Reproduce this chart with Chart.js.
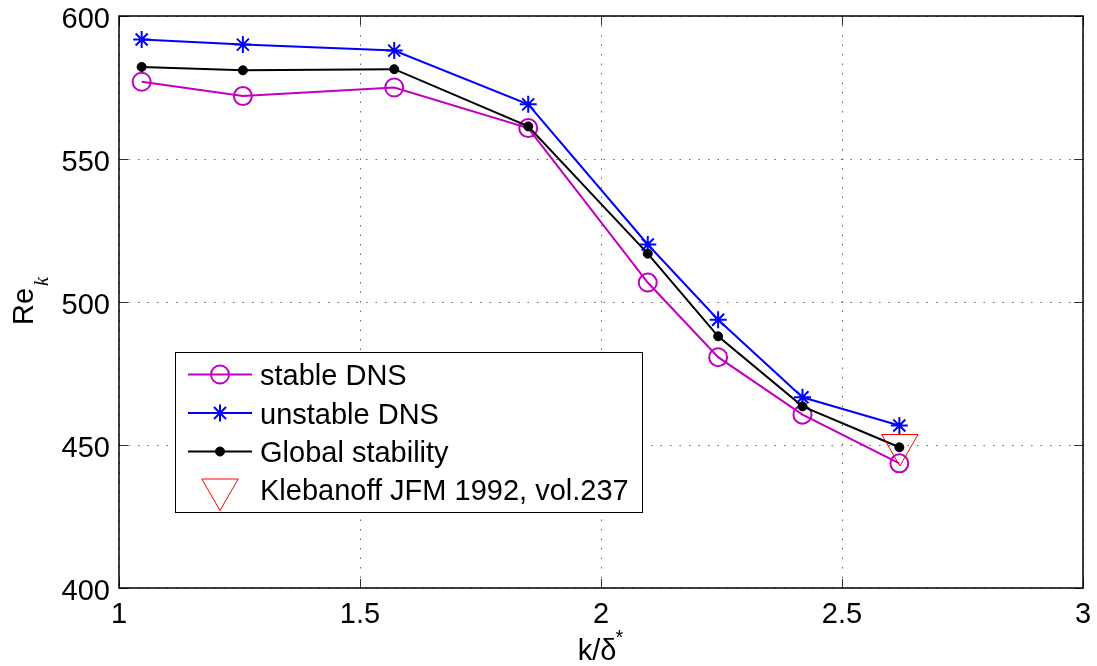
<!DOCTYPE html>
<html>
<head>
<meta charset="utf-8">
<script src="https://cdn.jsdelivr.net/npm/chart.js@4"></script>
<style>
  html, body { margin: 0; padding: 0; background: #fff; }
  #wrap { width: 1097px; height: 666px; }
</style>
</head>
<body>
<div id="wrap"><canvas id="chart" width="1097" height="666"></canvas></div>
<script>
// k/delta* positions of the runs
const kDelta = [1.047, 1.257, 1.571, 1.849, 2.097, 2.243, 2.418, 2.619];

// Re_k for each series
const stableDNS = [577.0, 572.0, 575.0, 560.8, 506.8, 480.7, 460.6, 443.6];
const unstableDNS = [591.8, 590.0, 587.9, 569.1, 520.1, 493.8, 466.7, 456.8];
const globalStability = [582.2, 581.0, 581.4, 561.4, 516.9, 488.0, 463.5, 449.2];

// Klebanoff reference point
const klebX = [2.62];
const klebY = [450];

// axis ticks
const xTicks = [1, 1.5, 2, 2.5, 3];
const yTicks = [400, 450, 500, 550, 600];

const FONT = '"Liberation Sans", Arial, Helvetica, sans-serif';

function toPoints(xs, ys) {
    return xs.map((x, i) => ({ x: x, y: ys[i] }));
}

// draw a marker like the ones on the chart (used for the legend)
function drawMarker(ctx, style, x, y, r, color, lw, fill) {
    ctx.save();
    ctx.strokeStyle = color;
    ctx.fillStyle = color;
    ctx.lineWidth = lw;
    ctx.beginPath();
    if (style === 'circle') {
        ctx.arc(x, y, r, 0, Math.PI * 2);
        if (fill) ctx.fill();
        ctx.stroke();
    } else if (style === 'star') {
        const d = r * Math.cos(Math.PI / 4);
        ctx.moveTo(x - r, y); ctx.lineTo(x + r, y);
        ctx.moveTo(x, y - r); ctx.lineTo(x, y + r);
        ctx.moveTo(x - d, y - d); ctx.lineTo(x + d, y + d);
        ctx.moveTo(x - d, y + d); ctx.lineTo(x + d, y - d);
        ctx.stroke();
    } else if (style === 'triangleDown') {
        const s = r * Math.sin(Math.PI / 3);
        ctx.moveTo(x, y + r);
        ctx.lineTo(x - s, y - r / 2);
        ctx.lineTo(x + s, y - r / 2);
        ctx.closePath();
        ctx.stroke();
    }
    ctx.restore();
}

// legend entries
const legendItems = [
    { label: 'stable DNS', color: '#bf00bf', line: true, marker: 'circle', r: 9, lw: 2, fill: false },
    { label: 'unstable DNS', color: '#0000ff', line: true, marker: 'star', r: 8.5, lw: 2, fill: false },
    { label: 'Global stability', color: '#000000', line: true, marker: 'circle', r: 4.5, lw: 1, fill: true },
    { label: 'Klebanoff JFM 1992, vol.237', color: '#ff0000', line: false, marker: 'triangleDown', r: 21, lw: 1, fill: false }
];

const decor = {
    id: 'decor',
    afterDatasetsDraw(chart) {
        const ctx = chart.ctx;
        const a = chart.chartArea;
        const xs = chart.scales.x, ys = chart.scales.y;
        ctx.save();
        // inner tick marks on all four sides
        ctx.strokeStyle = '#333';
        ctx.lineWidth = 1;
        ctx.beginPath();
        xTicks.forEach(v => {
            const px = Math.round(xs.getPixelForValue(v)) + 0.5;
            ctx.moveTo(px, a.bottom); ctx.lineTo(px, a.bottom - 9);
            ctx.moveTo(px, a.top); ctx.lineTo(px, a.top + 9);
        });
        yTicks.forEach(v => {
            const py = Math.round(ys.getPixelForValue(v)) + 0.5;
            ctx.moveTo(a.left, py); ctx.lineTo(a.left + 9, py);
            ctx.moveTo(a.right, py); ctx.lineTo(a.right - 9, py);
        });
        ctx.stroke();
        // frame
        ctx.strokeStyle = '#000';
        ctx.lineWidth = 1.5;
        ctx.strokeRect(a.left, a.top, a.right - a.left, a.bottom - a.top);

        // tick labels
        ctx.fillStyle = '#000';
        ctx.font = '29px ' + FONT;
        ctx.textBaseline = 'alphabetic';
        ctx.textAlign = 'center';
        xTicks.forEach(v => {
            ctx.fillText(String(v), xs.getPixelForValue(v), a.bottom + 35);
        });
        ctx.textAlign = 'right';
        yTicks.forEach(v => {
            ctx.fillText(String(v), a.left - 9, ys.getPixelForValue(v) + 12);
        });
        ctx.restore();
    },
    afterDraw(chart) {
        const ctx = chart.ctx;
        const a = chart.chartArea;
        ctx.save();
        ctx.fillStyle = '#000';

        // x title: k/δ*
        ctx.font = '29px ' + FONT;
        ctx.textBaseline = 'alphabetic';
        ctx.textAlign = 'left';
        const main = 'k/δ';
        const wMain = ctx.measureText(main).width;
        ctx.font = '20px ' + FONT;
        const wStar = ctx.measureText('*').width;
        const cx = (a.left + a.right) / 2;
        const x0 = cx - (wMain + wStar) / 2;
        ctx.font = '29px ' + FONT;
        ctx.fillText(main, x0, 660);
        ctx.font = '20px ' + FONT;
        ctx.fillText('*', x0 + wMain - 1, 644);

        // y title: Re with subscript k
        ctx.save();
        ctx.translate(33, 325);
        ctx.rotate(-Math.PI / 2);
        ctx.font = '29px ' + FONT;
        ctx.fillText('Re', 0, 0);
        const wRe = ctx.measureText('Re').width;
        ctx.font = 'italic 20px "Liberation Serif", "DejaVu Serif", serif';
        ctx.fillText('k', wRe + 2, 15);
        ctx.restore();

        // legend box
        const bx = 175.5, by = 352.5, bw = 467, bh = 160;
        ctx.fillStyle = '#fff';
        ctx.fillRect(bx, by, bw, bh);
        ctx.strokeStyle = '#000';
        ctx.lineWidth = 1;
        ctx.strokeRect(bx, by, bw, bh);
        const baselines = [385, 423.5, 462, 500];
        legendItems.forEach((it, i) => {
            const yb = baselines[i];
            const ym = yb - 10.5;
            if (it.line) {
                ctx.strokeStyle = it.color;
                ctx.lineWidth = 2;
                ctx.beginPath();
                ctx.moveTo(188, ym);
                ctx.lineTo(252, ym);
                ctx.stroke();
            }
            drawMarker(ctx, it.marker, 220, ym, it.r, it.color, it.lw, it.fill);
            ctx.fillStyle = '#000';
            ctx.font = '29px ' + FONT;
            ctx.textBaseline = 'alphabetic';
            ctx.textAlign = 'left';
            ctx.fillText(it.label, 260, yb);
        });
        ctx.restore();
    }
};

new Chart(document.getElementById('chart'), {
    type: 'line',
    data: {
        datasets: [
            {
                label: 'stable DNS',
                data: toPoints(kDelta, stableDNS),
                borderColor: '#bf00bf',
                borderWidth: 2,
                pointStyle: 'circle',
                pointRadius: 9,
                pointBorderWidth: 2,
                pointBorderColor: '#bf00bf',
                pointBackgroundColor: 'rgba(0,0,0,0)',
                order: 4
            },
            {
                label: 'unstable DNS',
                data: toPoints(kDelta, unstableDNS),
                borderColor: '#0000ff',
                borderWidth: 2,
                pointStyle: 'star',
                pointRadius: 8.5,
                pointBorderWidth: 2,
                pointBorderColor: '#0000ff',
                pointBackgroundColor: '#0000ff',
                order: 3
            },
            {
                label: 'Global stability',
                data: toPoints(kDelta, globalStability),
                borderColor: '#000000',
                borderWidth: 2,
                pointStyle: 'circle',
                pointRadius: 4.5,
                pointBorderWidth: 1,
                pointBorderColor: '#000000',
                pointBackgroundColor: '#000000',
                order: 2
            },
            {
                label: 'Klebanoff JFM 1992, vol.237',
                data: toPoints(klebX, klebY),
                showLine: false,
                borderColor: '#ff0000',
                pointStyle: 'triangle',
                rotation: 180,
                pointRadius: 21,
                pointBorderWidth: 1,
                pointBorderColor: '#ff0000',
                pointBackgroundColor: 'rgba(0,0,0,0)',
                order: 1
            }
        ]
    },
    options: {
        responsive: false,
        animation: false,
        devicePixelRatio: 1,
        layout: { autoPadding: false, padding: { top: 16, right: 14, left: 0, bottom: 0 } },
        plugins: {
            legend: { display: false },
            tooltip: { enabled: false }
        },
        scales: {
            x: {
                type: 'linear',
                min: 1,
                max: 3,
                afterBuildTicks: s => { s.ticks = xTicks.map(v => ({ value: v })); },
                afterFit: s => { s.height = 78; s.paddingLeft = 0; s.paddingRight = 0; },
                ticks: { display: false },
                grid: { color: 'rgba(0,0,0,0.6)', lineWidth: 1, drawTicks: false },
                border: { display: false, dash: [1.5, 8] }
            },
            y: {
                min: 400,
                max: 600,
                afterBuildTicks: s => { s.ticks = yTicks.map(v => ({ value: v })); },
                afterFit: s => { s.width = 119; s.paddingTop = 0; s.paddingBottom = 0; },
                ticks: { display: false },
                grid: { color: 'rgba(0,0,0,0.6)', lineWidth: 1, drawTicks: false },
                border: { display: false, dash: [1.5, 8] }
            }
        }
    },
    plugins: [decor]
});
</script>
</body>
</html>
